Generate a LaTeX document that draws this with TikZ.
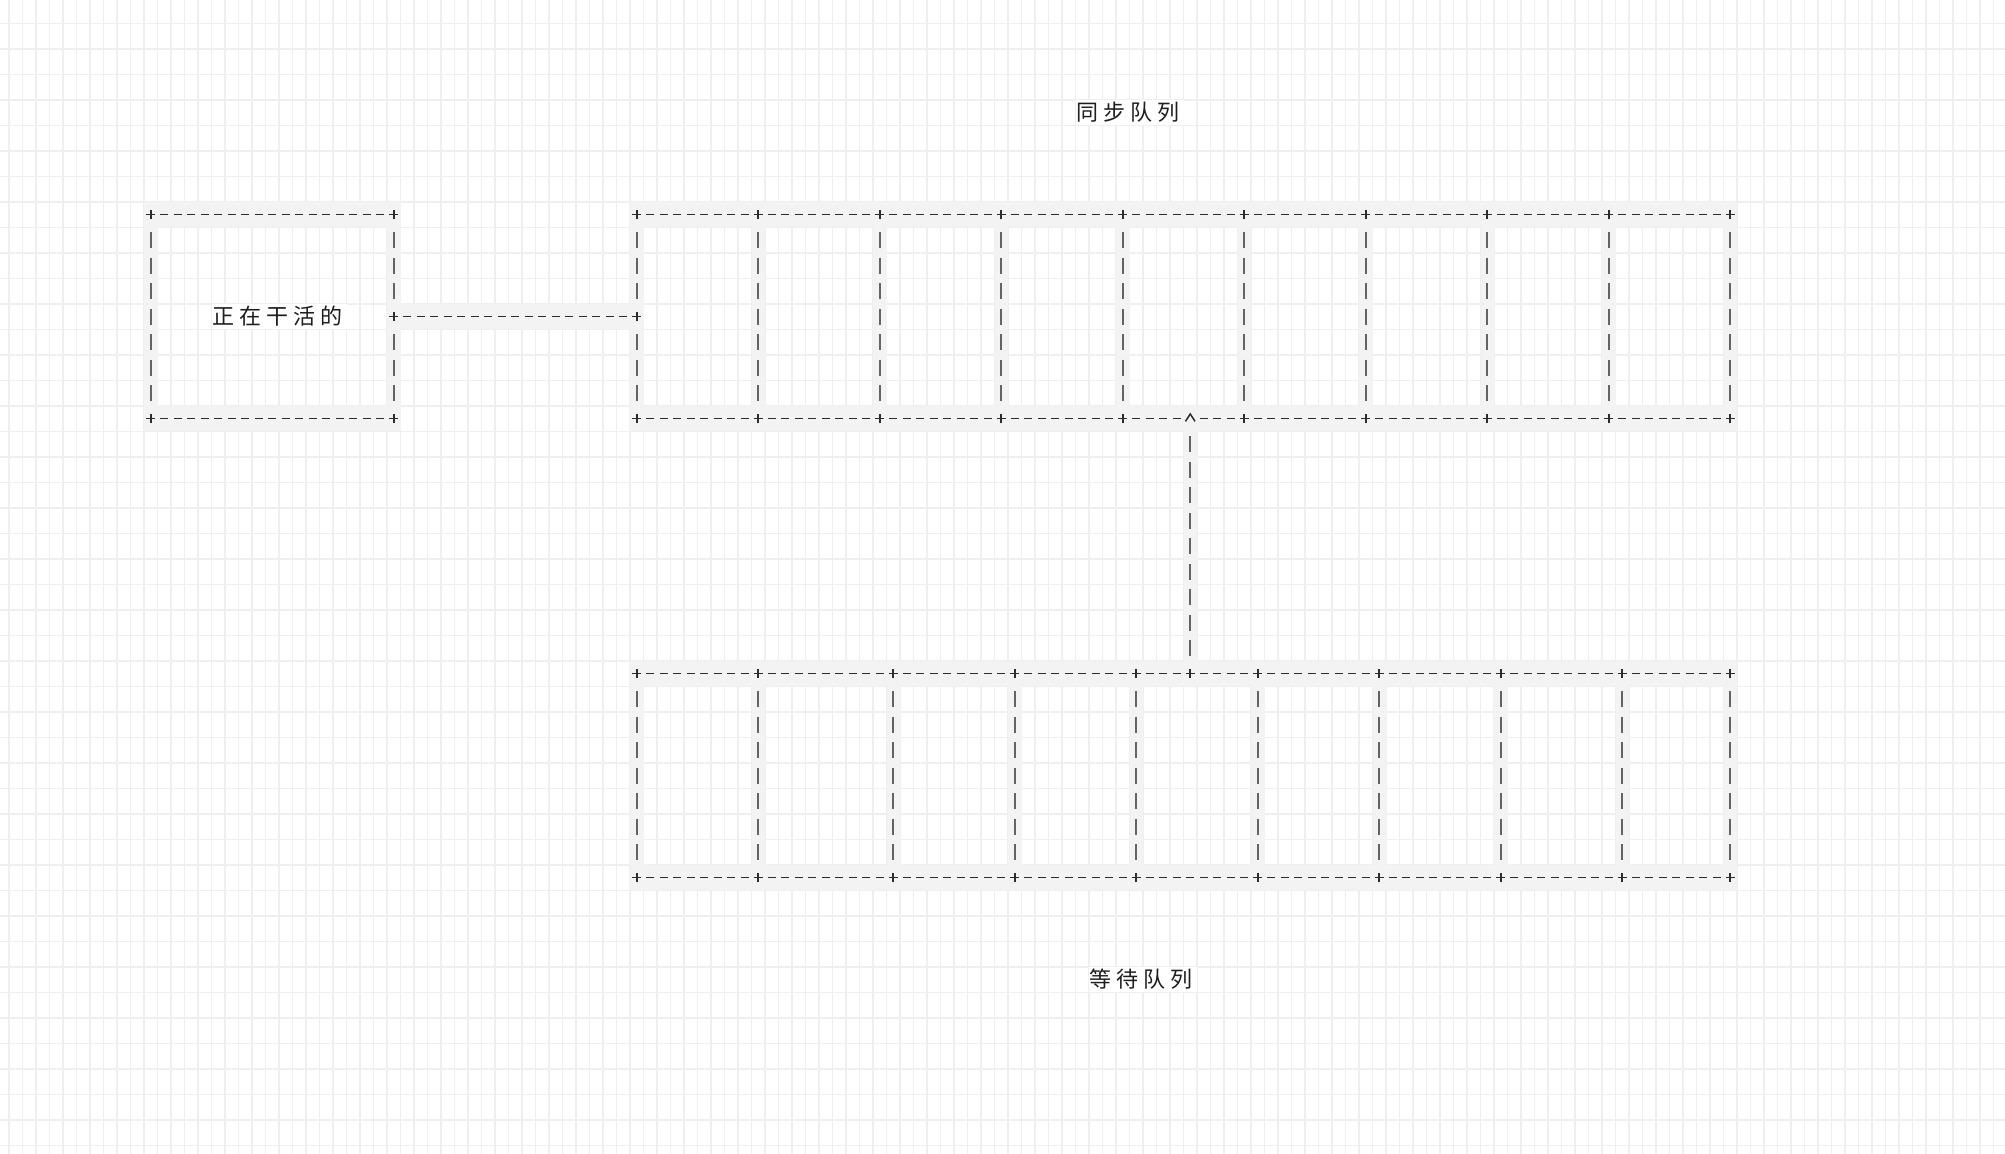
\documentclass[tikz,border=0pt]{standalone}
\usepackage{fontspec}
\newfontfamily\zhfont{Noto Sans CJK SC}
\usetikzlibrary{calc}
\definecolor{gridc}{RGB}{239,239,239}
\definecolor{bandc}{RGB}{243,243,243}
\definecolor{dashc}{RGB}{45,45,45}
\definecolor{barc}{RGB}{100,100,100}
\definecolor{textc}{RGB}{30,30,30}
\newcommand\zslot[1]{\makebox[13.5pt][l]{\hspace{0.4pt}#1}}
\newcommand\plusat[1]{\draw[plusmark] ([xshift=-2.3pt]#1) -- ([xshift=2.3pt]#1) ([yshift=-2.4pt]#1) -- ([yshift=2.4pt]#1);}
\tikzset{
  gridline/.style={draw=gridc, line width=0.75pt},
  hband/.style={draw=bandc, line width=12.75pt, shorten <=-3.375pt, shorten >=-3.375pt},
  vband/.style={draw=bandc, line width=6.75pt, shorten <=-6.375pt, shorten >=-6.375pt},
  hdash/.style={draw=dashc, line width=0.85pt, dash pattern=on 4pt off 2.75pt, dash phase=5.375pt, shorten <=3.375pt, shorten >=3.375pt},
  vdash/.style={draw=barc, line width=0.9pt, dash pattern=on 8pt off 4.75pt, dash phase=10.375pt, shorten <=6.375pt, shorten >=6.375pt},
  plusmark/.style={draw=dashc, line width=0.8pt},
  caret/.style={draw=dashc, line width=0.75pt, line join=miter},
  frame/.style={rectangle, inner sep=0pt, outer sep=0pt},
  ztext/.style={rectangle, inner sep=0pt, outer sep=0pt, fill=white, minimum height=12.75pt, text=textc, font=\zhfont\fontsize{11pt}{13pt}\selectfont},
}
\begin{document}
\begin{tikzpicture}[x=6.75pt, y=-12.75pt]
\fill[white] (-0.6667,-0.9137) rectangle (147.8519,44.302);
\useasboundingbox (-0.6667,-0.9137) rectangle (147.8519,44.302);
% background grid
\foreach \k in {-1,...,148} \draw[gridline] (\k,-1) -- (\k,45);
\foreach \k in {-1,...,45} \draw[gridline] (-1,\k) -- (149,\k);

% nodes
\node[frame, minimum width=121.5pt, minimum height=102pt] (worker) at (19.5,11.5) {};
\foreach \i in {1,...,9} {
  \pgfmathsetmacro\cellx{46+9*(\i-1)+5}
  \node[frame, minimum width=60.75pt, minimum height=102pt] (s\i) at (\cellx,11.5) {};
}
\foreach \i/\a/\b in {1/46/55, 2/55/65, 3/65/74, 4/74/83, 5/83/92, 6/92/101, 7/101/110, 8/110/119, 9/119/127} {
  \pgfmathsetmacro\cellx{(\a+\b)/2+0.5}
  \pgfmathsetmacro\cellw{(\b-\a)*6.75}
  \node[frame, minimum width=\cellw pt, minimum height=102pt] (w\i) at (\cellx,29.5) {};
}
\coordinate (tail) at ([xshift=27pt]w5.north west);
\coordinate (head) at (tail |- s5.south);

% gray cell backgrounds
\draw[hband] (worker.north west) -- (worker.north east);
\draw[hband] (worker.south west) -- (worker.south east);
\draw[vband] (worker.north west) -- (worker.south west);
\draw[vband] (worker.north east) -- (worker.south east);
\draw[hband] (worker.east) -- (s1.west);
\draw[hband] (s1.north west) -- (s9.north east);
\draw[hband] (s1.south west) -- (s9.south east);
\draw[hband] (w1.north west) -- (w9.north east);
\draw[hband] (w1.south west) -- (w9.south east);
\foreach \i in {1,...,9} {
  \draw[vband] (s\i.north west) -- (s\i.south west);
  \draw[vband] (w\i.north west) -- (w\i.south west);
}
\draw[vband] (s9.north east) -- (s9.south east);
\draw[vband] (w9.north east) -- (w9.south east);
\draw[vband] (tail) -- (head);

% box "working"
\draw[hdash] (worker.north west) -- (worker.north east);
\draw[hdash] (worker.south west) -- (worker.south east);
\draw[vdash] (worker.north west) -- (worker.south west);
\draw[vdash] (worker.north east) -- (worker.east);
\draw[vdash] (worker.east) -- (worker.south east);

% synchronous queue
\draw[hdash] (s1.north west) -- (s9.north east);
\draw[hdash] (s1.south west) -- (head);
\draw[hdash] (head) -- (s9.south east);
\draw[vdash] (s1.north west) -- (s1.west);
\draw[vdash] (s1.west) -- (s1.south west);
\foreach \i in {2,...,9} \draw[vdash] (s\i.north west) -- (s\i.south west);
\draw[vdash] (s9.north east) -- (s9.south east);

% waiting queue
\draw[hdash] (w1.north west) -- (w9.north east);
\draw[hdash] (w1.south west) -- (w9.south east);
\foreach \i in {1,...,9} \draw[vdash] (w\i.north west) -- (w\i.south west);
\draw[vdash] (w9.north east) -- (w9.south east);

% connectors
\draw[hdash] (worker.east) -- (s1.west);
\draw[vdash] (tail) -- (head);
\draw[caret] ([xshift=-2.4pt,yshift=-1.4pt]head) -- ([yshift=2.3pt]head) -- ([xshift=2.4pt,yshift=-1.4pt]head);

% plus marks
\plusat{worker.north west}
\plusat{worker.north east}
\plusat{worker.south west}
\plusat{worker.south east}
\plusat{worker.east}
\plusat{s1.west}
\foreach \i in {1,...,9} {
  \plusat{s\i.north west}
  \plusat{s\i.south west}
  \plusat{w\i.north west}
  \plusat{w\i.south west}
}
\plusat{s9.north east}
\plusat{s9.south east}
\plusat{w9.north east}
\plusat{w9.south east}
\plusat{tail}

% texts
\node[ztext, minimum width=67.5pt, anchor=west] (workerlabel) at (15,11.5) {\zslot{正}\zslot{在}\zslot{干}\zslot{活}\zslot{的}};
\node[ztext, minimum width=54pt, anchor=west] (synctitle) at (79,3.5) {\zslot{同}\zslot{步}\zslot{队}\zslot{列}};
\node[ztext, minimum width=54pt, anchor=west] (waittitle) at (80,37.5) {\zslot{等}\zslot{待}\zslot{队}\zslot{列}};
\end{tikzpicture}
\end{document}
